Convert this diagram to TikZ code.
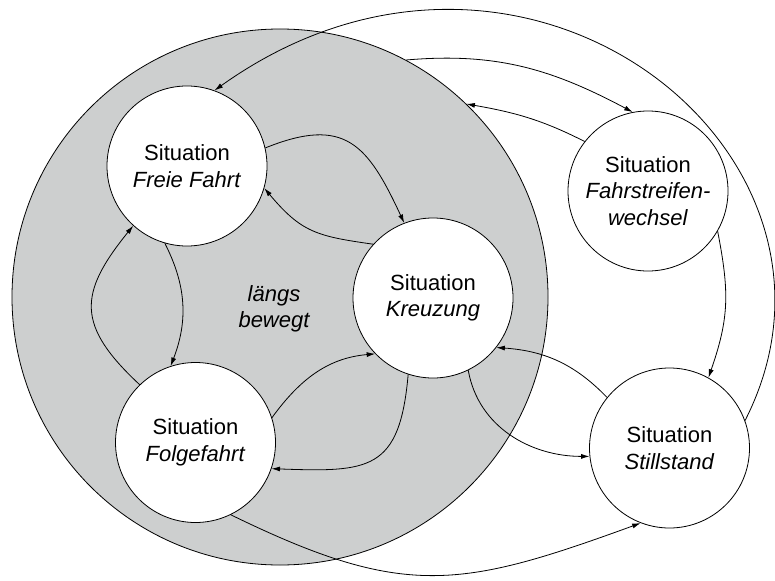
\documentclass[tikz,border=0pt]{standalone}
\usepackage{fontspec}
\setmainfont{Liberation Sans}
\usetikzlibrary{arrows.meta}
\definecolor{zonegray}{RGB}{205,207,207}
\begin{document}
\begin{tikzpicture}[x=1pt,y=1pt,
  line width=0.8pt,
  state/.style={circle, draw, fill=white, minimum size=160pt, inner sep=0pt,
    align=center, font=\fontsize{22}{26.5}\selectfont},
  zone/.style={circle, draw, fill=zonegray, minimum size=536pt, inner sep=0pt},
  trans/.style={-{Latex[length=8.5pt,width=5pt]}},
]
\useasboundingbox (0,0) rectangle (775,-580);

% super-state "laengs bewegt"
\node[zone] (zone) at (280,-297) {};
\node[font=\fontsize{22}{26.5}\selectfont\itshape, align=center] (lb) at (274,-309) {längs\\bewegt};

% states
\node[state] (ff) at (187,-166) {Situation\\\textit{Freie Fahrt}};
\node[state] (fo) at (195.5,-442.5) {Situation\\\textit{Folgefahrt}};
\node[state] (kr) at (433,-298) {Situation\\\textit{Kreuzung}};
\node[state] (fw) at (648,-191) {Situation\\\textit{Fahrstreifen-}\\\textit{wechsel}};
\node[state] (st) at (669.5,-448) {Situation\\\textit{Stillstand}};

% transitions inside the super-state
\draw[trans] (ff.13) to[out=22,in=115,looseness=1.4] (kr.111);
\draw[trans] (kr.138) to[out=172,in=-50,looseness=1.2] (ff.-16);
\draw[trans] (ff.-106) to[out=-63,in=69] (fo.108);
\draw[trans] (fo.134) to[out=137,in=-129,looseness=1.4] (ff.-132);
\draw[trans] (fo.18) to[out=54,in=185] (kr.224);
\draw[trans] (kr.-108) to[out=-95,in=-2,looseness=1.5] (fo.-19);

% transitions to and from the outer states
\draw[trans] (kr.-64) to[out=-80,in=180] (st.186);
\draw[trans] (st.141) to[out=134,in=-4] (kr.-38);
\draw[trans] (fo.-64) to[out=-26,in=200,looseness=1.2] (st.-111);
\draw[trans] (st.20) to[out=63,in=35.5,out distance=300pt,in distance=380pt] (ff.70);
\draw[trans] (zone.62) to[out=5,in=152] (fw.101);
\draw[trans] (fw.142) to[out=153,in=-10] (zone.46);
\draw[trans] (fw.-30) to[out=-79,in=71,looseness=1.1] (st.61);
\end{tikzpicture}
\end{document}
